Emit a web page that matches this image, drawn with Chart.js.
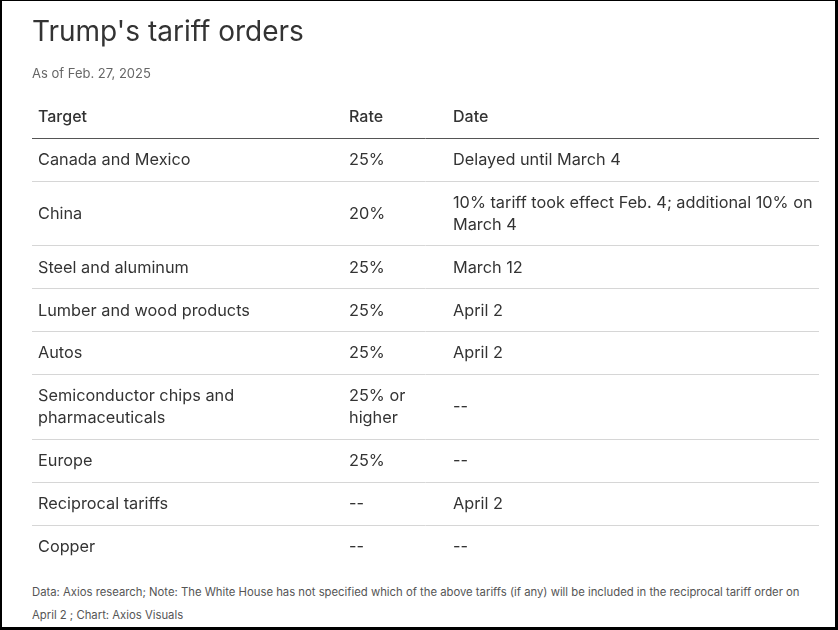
<!DOCTYPE html>
<html>
<head>
<meta charset="utf-8">
<script src="https://cdn.jsdelivr.net/npm/chart.js@4.4.1/dist/chart.umd.min.js"></script>
<style>
  html, body { margin: 0; padding: 0; background: #fff; }
  #wrap { position: relative; width: 838px; height: 630px; overflow: hidden; background: #fff; }
  #c { position: absolute; left: 0; top: 0; }
  #note { position: absolute; left: 32px; top: 581px; width: 787px; font-family: Inter, "Noto Sans", sans-serif;
          font-size: 11.3px; line-height: 23px; color: #555; }
  #frame { position: absolute; left: 0; top: 0; width: 838px; height: 630px; box-sizing: border-box;
           border-left: 2px solid #000; border-top: 1px solid #000; border-right: 3px solid #000; border-bottom: 3px solid #000;
           pointer-events: none; }
</style>
</head>
<body>
<div id="wrap">
  <canvas id="c" width="838" height="578"></canvas>
  <div id="note"></div>
  <div id="frame"></div>
</div>
<script>
// ---- data ----
const chartTitle = "Trump's tariff orders";
const chartSubtitle = "As of Feb. 27, 2025";
const columns = ["Target", "Rate", "Date"];
const targets = ["Canada and Mexico", "China", "Steel and aluminum", "Lumber and wood products", "Autos",
                 "Semiconductor chips and pharmaceuticals", "Europe", "Reciprocal tariffs", "Copper"];
const rates = ["25%", "20%", "25%", "25%", "25%", "25% or higher", "25%", "--", "--"];
const dates = ["Delayed until March 4", "10% tariff took effect Feb. 4; additional 10% on March 4", "March 12",
               "April 2", "April 2", "--", "--", "April 2", "--"];
const noteText = "Data: Axios research; Note: The White House has not specified which of the above tariffs (if any) will be included in the reciprocal tariff order on April 2 ; Chart: Axios Visuals";

// ---- layout constants ----
const FONT = 'Inter, "Noto Sans", sans-serif';
const colX = [6, 317, 421];          // column offsets inside the table area
const colW = [300, 92, 372];         // wrap widths
const LINE = 21.5, PAD = 10.75;
const bodyFont = '400 16.3px ' + FONT;
const headFont = '500 16px ' + FONT;

document.getElementById('note').textContent = noteText;

const mctx = document.createElement('canvas').getContext('2d');
function wrap(text, width, font) {
  mctx.font = font;
  const words = text.split(' ');
  const lines = [];
  let cur = '';
  for (const w of words) {
    const t = cur ? cur + ' ' + w : w;
    if (cur && mctx.measureText(t).width > width) { lines.push(cur); cur = w; }
    else cur = t;
  }
  if (cur) lines.push(cur);
  return lines;
}

const rows = [columns].concat(targets.map((t, i) => [t, rates[i], dates[i]]));
const cells = rows.map((r, ri) => r.map((txt, ci) => wrap(txt, colW[ci], ri === 0 ? headFont : bodyFont)));
const heights = cells.map(r => PAD * 2 + LINE * Math.max(...r.map(c => c.length)));
const starts = [];
let acc = 0;
heights.forEach(h => { starts.push(acc); acc += h; });
const total = acc;
const boundaries = starts.slice(1);

const tablePlugin = {
  id: 'tableText',
  afterDatasetsDraw(chart) {
    const { ctx, scales: { x, y } } = chart;
    ctx.save();
    ctx.textBaseline = 'middle';
    ctx.textAlign = 'left';
    cells.forEach((r, ri) => {
      const mid = starts[ri] + heights[ri] / 2;
      ctx.font = ri === 0 ? headFont : bodyFont;
      ctx.fillStyle = '#333';
      r.forEach((lines, ci) => {
        const px = x.getPixelForValue(colX[ci]);
        lines.forEach((ln, li) => {
          const v = mid + (li - (lines.length - 1) / 2) * LINE;
          ctx.fillText(ln, px, y.getPixelForValue(v) + 0.5);
        });
      });
    });
    ctx.restore();
  }
};

new Chart(document.getElementById('c'), {
  type: 'scatter',
  data: { datasets: [] },
  options: {
    responsive: false,
    animation: false,
    events: [],
    layout: { padding: { left: 32, right: 19, top: 0, bottom: 10 } },
    plugins: {
      legend: { display: false },
      tooltip: { enabled: false },
      title: { display: true, text: chartTitle, align: 'start', color: '#333',
               font: { family: FONT, size: 28, weight: '400' }, padding: { top: 16, bottom: 17 } },
      subtitle: { display: true, text: chartSubtitle, align: 'start', color: '#666',
                  font: { family: FONT, size: 13, weight: '400' }, padding: { top: 0, bottom: 13 } }
    },
    scales: {
      x: { type: 'linear', min: 0, max: 787, display: false },
      y: {
        type: 'linear', reverse: true, min: 0, max: total, display: true,
        ticks: { display: false },
        border: { display: false },
        grid: {
          drawTicks: false, lineWidth: 1,
          color: c => (c.tick && c.tick.value === boundaries[0]) ? '#555' : '#d6d6d6'
        },
        afterBuildTicks: s => { s.ticks = boundaries.map(v => ({ value: v })); }
      }
    }
  },
  plugins: [tablePlugin]
});
</script>
</body>
</html>
